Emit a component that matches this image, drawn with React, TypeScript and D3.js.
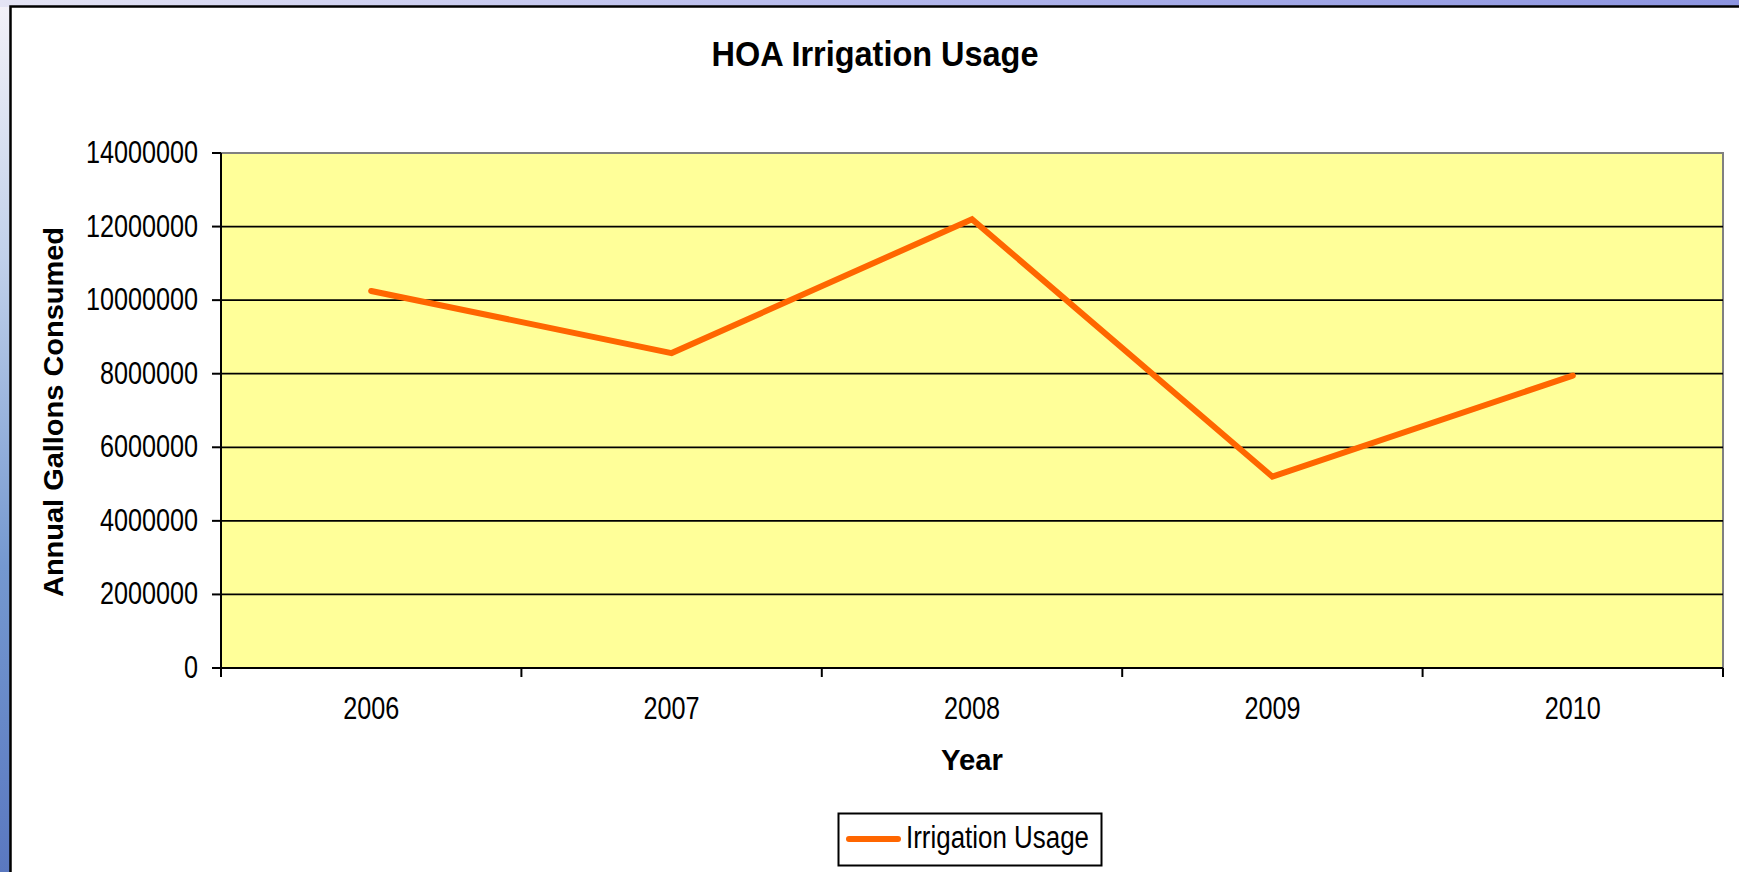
import React from "react";
import * as d3 from "d3";

// chart data
const years = ["2006", "2007", "2008", "2009", "2010"];
const usage = [10250000, 8560000, 12200000, 5200000, 7950000];
const yTicks = [0, 2000000, 4000000, 6000000, 8000000, 10000000, 12000000, 14000000];
const seriesName = "Irrigation Usage";

const W = 1739;
const H = 872;
const plot = { left: 221, right: 1723, top: 153, bottom: 668 };
const font = "'Liberation Sans', Arial, sans-serif";
const lineColour = "#FF6600";

export default function App() {
  const x = d3.scaleBand().domain(years).range([plot.left, plot.right]);
  const y = d3.scaleLinear().domain([0, 14000000]).range([plot.bottom, plot.top]);

  const lineGen = d3
    .line<number>()
    .x((_, i) => (x(years[i]) as number) + x.bandwidth() / 2)
    .y((d) => y(d));

  // category boundaries for the x ticks
  const bounds = years.map((yr) => x(yr) as number).concat([plot.right]);

  return (
    <svg width={W} height={H} style={{ position: "absolute", left: 0, top: 0, display: "block" }}>
      <defs>
        <linearGradient id="topBg" x1="0" x2="1" y1="0" y2="0">
          <stop offset="0" stopColor="#e4e4f4" />
          <stop offset="0.5" stopColor="#b4b8ec" />
          <stop offset="1" stopColor="#8c94e0" />
        </linearGradient>
        <linearGradient id="leftBg" x1="0" x2="0" y1="0" y2="1">
          <stop offset="0" stopColor="#f4f2f8" />
          <stop offset="0.3" stopColor="#c0d0ea" />
          <stop offset="0.65" stopColor="#7498d0" />
          <stop offset="1" stopColor="#5a78c0" />
        </linearGradient>
      </defs>

      {/* slide background around the chart frame */}
      <rect x={0} y={0} width={W} height={H} fill="url(#leftBg)" />
      <rect x={0} y={0} width={W} height={7} fill="url(#topBg)" />
      <rect x={10.5} y={6.5} width={W + 10} height={H + 10} fill="#ffffff" stroke="#000" strokeWidth={2.5} />

      {/* title */}
      <text x={875} y={66} textAnchor="middle" fontFamily={font} fontWeight="bold" fontSize={35}
        textLength={327} lengthAdjust="spacingAndGlyphs">
        HOA Irrigation Usage
      </text>

      {/* plot area */}
      <rect x={plot.left} y={plot.top} width={plot.right - plot.left} height={plot.bottom - plot.top}
        fill="#FFFF99" stroke="#808080" strokeWidth={2} />

      {/* gridlines */}
      {yTicks.filter((t) => t > 0 && t < 14000000).map((t) => (
        <line key={t} x1={plot.left} x2={plot.right} y1={y(t)} y2={y(t)} stroke="#000" strokeWidth={1.8} />
      ))}

      {/* y axis */}
      <line x1={plot.left} x2={plot.left} y1={plot.top} y2={plot.bottom} stroke="#000" strokeWidth={2} />
      {yTicks.map((t) => (
        <g key={t}>
          <line x1={plot.left - 9} x2={plot.left} y1={y(t)} y2={y(t)} stroke="#000" strokeWidth={2} />
          <text transform={`translate(198,${y(t) + 10}) scale(0.8,1)`} textAnchor="end"
            fontFamily={font} fontSize={31.5} fill="#000">
            {t}
          </text>
        </g>
      ))}

      {/* x axis */}
      <line x1={plot.left} x2={plot.right} y1={plot.bottom} y2={plot.bottom} stroke="#000" strokeWidth={2} />
      {bounds.map((b, i) => (
        <line key={i} x1={b} x2={b} y1={plot.bottom} y2={plot.bottom + 9} stroke="#000" strokeWidth={2} />
      ))}
      {years.map((yr) => (
        <text key={yr} transform={`translate(${(x(yr) as number) + x.bandwidth() / 2},719) scale(0.8,1)`}
          textAnchor="middle" fontFamily={font} fontSize={31.5} fill="#000">
          {yr}
        </text>
      ))}

      {/* axis titles */}
      <text x={972} y={770} textAnchor="middle" fontFamily={font} fontWeight="bold" fontSize={30}
        textLength={62} lengthAdjust="spacingAndGlyphs">
        Year
      </text>
      <text transform="translate(63,412) rotate(-90)" textAnchor="middle" fontFamily={font}
        fontWeight="bold" fontSize={28} textLength={370} lengthAdjust="spacingAndGlyphs">
        Annual Gallons Consumed
      </text>

      {/* series */}
      <path d={lineGen(usage) || ""} fill="none" stroke={lineColour} strokeWidth={6}
        strokeLinecap="round" strokeLinejoin="miter" />

      {/* legend */}
      <rect x={838.5} y={813.5} width={263} height={52} fill="#fff" stroke="#000" strokeWidth={2} />
      <line x1={849} x2={898} y1={839} y2={839} stroke={lineColour} strokeWidth={6} strokeLinecap="round" />
      <text x={906} y={848} fontFamily={font} fontSize={31} textLength={183} lengthAdjust="spacingAndGlyphs">
        {seriesName}
      </text>
    </svg>
  );
}
